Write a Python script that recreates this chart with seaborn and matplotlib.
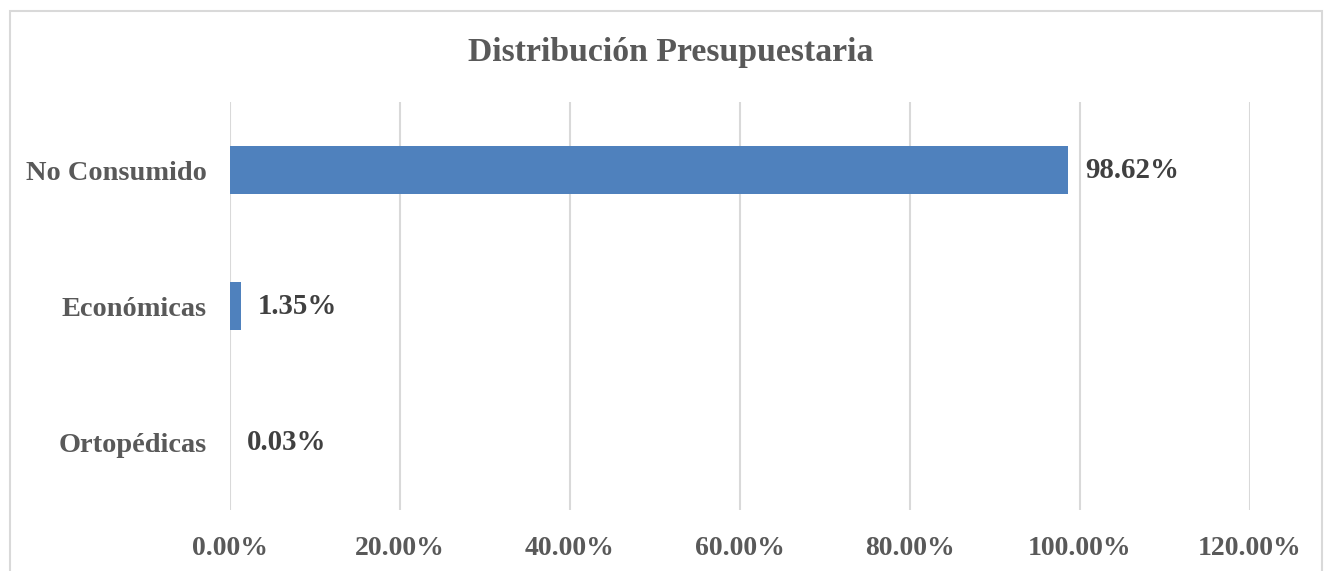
import numpy as np
import pandas as pd
import matplotlib.pyplot as plt
import seaborn as sns
from matplotlib.patches import Rectangle

categorias = ["No Consumido", "Económicas", "Ortopédicas"]
porcentajes = [98.62, 1.35, 0.03]
ticks = [0, 20, 40, 60, 80, 100, 120]

sns.set_style("white")
plt.rcParams['font.family'] = ['Liberation Serif', 'DejaVu Serif']

df = pd.DataFrame({"categoria": categorias, "porcentaje": porcentajes})

fig = plt.figure(figsize=(13.24, 5.71), dpi=100)
ax = fig.add_axes([230 / 1324, 1 - 510 / 571, 1020 / 1324, 408 / 571])

# borde del grafico
fig.patches.append(Rectangle((10 / 1324, -0.05), 1312 / 1324, 1.05 - 11 / 571,
                             transform=fig.transFigure, fill=False,
                             edgecolor='#d9d9d9', linewidth=1.5))

sns.barplot(data=df, x="porcentaje", y="categoria", color="#4f81bd",
            saturation=1, width=0.35, ax=ax, orient="h", linewidth=0)

ax.set_xlim(0, 120)
ax.set_ylim(2.5, -0.5)
ax.set_xticks(ticks)
ax.set_xticklabels([f"{t:.2f}%" for t in ticks], fontsize=20,
                   fontweight='bold', color='#595959')
ax.set_yticklabels(categorias, fontsize=20.4, fontweight='bold', color='#595959')
ax.tick_params(axis='x', length=0, pad=19)
ax.tick_params(axis='y', length=0, pad=17)
ax.set_xlabel("")
ax.set_ylabel("")
ax.grid(axis='x', color='#d9d9d9', linewidth=1.5)
ax.set_axisbelow(True)
for s in ax.spines.values():
    s.set_visible(False)

for i, v in enumerate(porcentajes):
    ax.annotate(f"{v:.2f}%", (v, i), xytext=(12, 0), textcoords='offset points',
                va='center', ha='left', fontsize=20.8, fontweight='bold',
                color='#404040')

fig.text(671 / 1324, 1 - 53 / 571, "Distribución Presupuestaria", ha='center',
         va='center', fontsize=24.3, fontweight='bold', color='#595959')

fig.savefig("out.png", dpi=100)
